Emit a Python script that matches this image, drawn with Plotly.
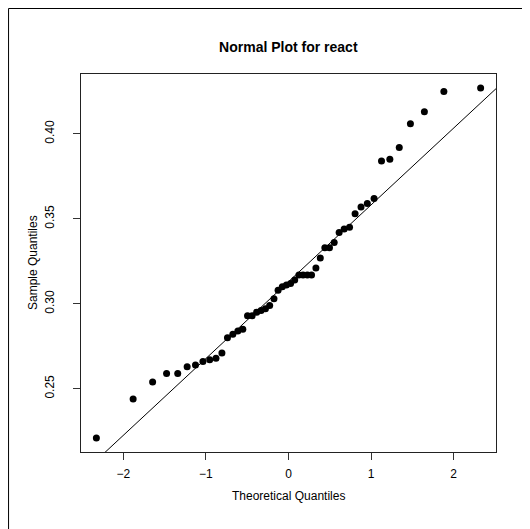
import plotly.graph_objects as go

# Sample values (sorted)
sample_quantiles = [0.221, 0.244, 0.254, 0.259, 0.259, 0.263, 0.264, 0.266, 0.267, 0.268,
                    0.271, 0.280, 0.282, 0.284, 0.285, 0.293, 0.293, 0.295, 0.296, 0.297,
                    0.299, 0.303, 0.308, 0.310, 0.311, 0.312, 0.314, 0.317, 0.317, 0.317,
                    0.317, 0.321, 0.327, 0.333, 0.333, 0.336, 0.342, 0.344, 0.345, 0.353,
                    0.357, 0.359, 0.362, 0.384, 0.385, 0.392, 0.406, 0.413, 0.425, 0.427]

# Theoretical normal quantiles for n = 50
theoretical_quantiles = [-2.326, -1.881, -1.645, -1.476, -1.341, -1.227, -1.126, -1.036, -0.954, -0.878,
                         -0.806, -0.739, -0.674, -0.613, -0.553, -0.496, -0.440, -0.385, -0.332, -0.279,
                         -0.228, -0.176, -0.126, -0.075, -0.025, 0.025, 0.075, 0.126, 0.176, 0.228,
                         0.279, 0.332, 0.385, 0.440, 0.496, 0.553, 0.613, 0.674, 0.739, 0.806,
                         0.878, 0.954, 1.036, 1.126, 1.227, 1.341, 1.476, 1.645, 1.881, 2.326]

x_tick_vals = [-2, -1, 0, 1, 2]
y_tick_vals = [0.25, 0.30, 0.35, 0.40]
y_tick_text = ["0.25", "0.30", "0.35", "0.40"]

# qqline through first and third quartiles
def quantile7(v, p):
    s = sorted(v)
    h = (len(s) - 1) * p
    lo = int(h)
    return s[lo] + (h - lo) * (s[min(lo + 1, len(s) - 1)] - s[lo])

q1, q3 = quantile7(sample_quantiles, 0.25), quantile7(sample_quantiles, 0.75)
z1, z3 = -0.6745, 0.6745
slope = (q3 - q1) / (z3 - z1)
intercept = q1 - slope * z1
line_x = [-3.0, 3.0]
line_y = [intercept + slope * v for v in line_x]

def ext(lo, hi):
    d = (hi - lo) * 0.04
    return [lo - d, hi + d]

xr = ext(min(theoretical_quantiles), max(theoretical_quantiles))
yr = ext(min(sample_quantiles), max(sample_quantiles))

FONT = "Liberation Sans, Arial, sans-serif"

fig = go.Figure()
fig.add_trace(go.Scatter(x=line_x, y=line_y, mode="lines",
                         line=dict(color="black", width=1), hoverinfo="skip"))
fig.add_trace(go.Scatter(x=theoretical_quantiles, y=sample_quantiles, mode="markers",
                         marker=dict(color="black", size=7)))

# page is offset by the 8px body margin
OFF = 8
W, H = 522, 521
L, T = 81 - OFF, 74 - OFF
R = W - (496.3 - OFF)
B = H - (452 - OFF)
pw, ph = W - L - R, H - T - B

def px2paper_x(px):  # px in page coordinates
    return (px - OFF - L) / pw

def px2paper_y(py):
    return (H - B - (py - OFF)) / ph

fig.update_layout(
    width=W, height=H,
    margin=dict(l=L, r=R, t=T, b=B, pad=0),
    plot_bgcolor="white", paper_bgcolor="white",
    showlegend=False,
    font=dict(family=FONT, size=12, color="black"),
    xaxis=dict(range=xr, tickvals=x_tick_vals, ticks="outside", ticklen=7,
               tickcolor="#333", showgrid=False, zeroline=False,
               showline=True, linecolor="#222", linewidth=1, mirror=True,
               tickfont=dict(size=12, family=FONT), ticklabelstandoff=4),
    yaxis=dict(range=yr, tickvals=y_tick_vals, ticktext=y_tick_text, ticks="outside",
               ticklen=7, tickcolor="#333", showgrid=False, zeroline=False,
               showline=True, linecolor="#222", linewidth=1, mirror=True,
               tickangle=-90, tickfont=dict(size=12, family=FONT), ticklabelstandoff=14),
    title=dict(text="<b>Normal Plot for react</b>", x=px2paper_x(288.5), xref="paper",
               xanchor="center", y=1 - (47 - OFF) / H, yref="container", yanchor="middle",
               font=dict(size=14, family=FONT)),
    annotations=[
        dict(text="Theoretical Quantiles", x=px2paper_x(288.5), y=px2paper_y(496),
             xref="paper", yref="paper", showarrow=False, xanchor="center", yanchor="middle",
             font=dict(size=12, family=FONT)),
        dict(text="Sample Quantiles", x=px2paper_x(33), y=px2paper_y(263),
             xref="paper", yref="paper", showarrow=False, xanchor="center", yanchor="middle",
             textangle=-90, font=dict(size=12, family=FONT)),
    ],
    shapes=[
        dict(type="line", xref="paper", yref="paper",
             x0=px2paper_x(8.5), y0=px2paper_y(8.5), x1=px2paper_x(8.5), y1=px2paper_y(529),
             line=dict(color="black", width=1), layer="above"),
        dict(type="line", xref="paper", yref="paper",
             x0=px2paper_x(8.5), y0=px2paper_y(8.5), x1=px2paper_x(530), y1=px2paper_y(8.5),
             line=dict(color="black", width=1), layer="above"),
    ],
)

fig.write_html("out.html",
               post_script="document.documentElement.style.overflow='hidden';"
                           "document.body.style.overflow='hidden';")
